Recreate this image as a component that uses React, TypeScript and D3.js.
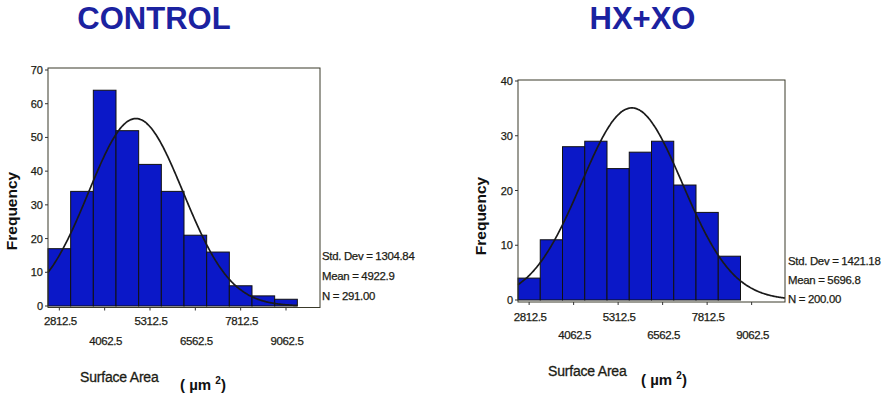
import * as d3 from "d3";
import React from "react";

// histogram bins: 625 wide, starting at 2500 (SPSS labels the midpoints)
const binStart = 2500;
const binWidth = 625;
const controlCounts = [17, 34, 64, 52, 42, 34, 21, 16, 6, 3, 2];
const hxxoCounts = [4, 11, 28, 29, 24, 27, 29, 21, 16, 8];

const xTickValues = [2812.5, 4062.5, 5312.5, 6562.5, 7812.5, 9062.5];
const xTickLabels = ["2812.5", "4062.5", "5312.5", "6562.5", "7812.5", "9062.5"];

const controlYTicks = [0, 10, 20, 30, 40, 50, 60, 70];
const hxxoYTicks = [0, 10, 20, 30, 40];

const controlStats = { sd: 1304.84, mean: 4922.9, n: 291 };
const hxxoStats = { sd: 1421.18, mean: 5696.8, n: 200 };
const controlStatLabels = ["Std. Dev = 1304.84", "Mean = 4922.9", "N = 291.00"];
const hxxoStatLabels = ["Std. Dev = 1421.18", "Mean = 5696.8", "N = 200.00"];

const FONT = "'Liberation Sans', Arial, sans-serif";
const BAR = "#0b18c8";
const TITLE = "#1b22a0";
const INK = "#1c1c14";

function Histogram({ title, titleX, counts, yTicks, yMax, stats, statLabels, curveEnd, box, labels }) {
  const x = d3.scaleLinear().domain([binStart, 10000]).range([box.x0, box.x1]);
  const y = d3.scaleLinear().domain([0, yMax]).range([box.yZero, box.yMaxPx]);
  const bins = counts.map((c, i) => ({ lo: binStart + i * binWidth, hi: binStart + (i + 1) * binWidth, c }));

  const pdf = (v) =>
    (stats.n * binWidth) / (stats.sd * Math.sqrt(2 * Math.PI)) *
    Math.exp(-0.5 * ((v - stats.mean) / stats.sd) ** 2);
  const pts = d3.range(binStart, curveEnd + 1, 25);
  const line = d3.line().x((v) => x(v)).y((v) => y(pdf(v))).curve(d3.curveBasis);

  return (
    <g>
      <text x={titleX} y={28.5} textAnchor="middle" fontFamily={FONT} fontWeight="bold"
        fontSize={31} fill={TITLE}>{title}</text>

      {bins.map((b, i) => (
        <rect key={i} x={x(b.lo)} y={y(b.c)} width={x(b.hi) - x(b.lo)} height={box.yZero - y(b.c)}
          fill={BAR} stroke="#111" strokeWidth={1} />
      ))}
      <path d={line(pts)} fill="none" stroke="#1a1a1a" strokeWidth={1.7} />

      <rect x={box.x0} y={box.top} width={box.x1 - box.x0} height={box.bottom - box.top}
        fill="none" stroke="#3a3a2a" strokeWidth={1} />

      {yTicks.map((t) => (
        <g key={t}>
          <line x1={box.x0 - 3} x2={box.x0} y1={y(t)} y2={y(t)} stroke="#333" />
          <text x={box.x0 - 5} y={y(t) + 4} textAnchor="end" fontFamily={FONT} fontSize={11}
            fill={INK} stroke={INK} strokeWidth={0.25}>{t}</text>
        </g>
      ))}

      {xTickValues.map((t, i) => (
        <g key={t}>
          <line x1={x(t)} x2={x(t)} y1={box.bottom} y2={box.bottom + 3} stroke="#333" />
          <text x={x(t) + 1} y={i % 2 === 0 ? labels.row1 : labels.row2} textAnchor="middle"
            fontFamily={FONT} fontSize={11.5} letterSpacing={-0.4} fill={INK} stroke={INK}
            strokeWidth={0.25}>{xTickLabels[i]}</text>
        </g>
      ))}

      <text transform={`translate(${labels.freqX},${labels.freqY}) rotate(-90)`} textAnchor="middle"
        fontFamily={FONT} fontWeight="bold" fontSize={15.5} fill="#111">Frequency</text>

      {statLabels.map((s, i) => (
        <text key={s} x={labels.statX} y={labels.statY + i * labels.statGap} fontFamily={FONT}
          fontSize={11.4} letterSpacing={-0.3} fill={INK} stroke={INK} strokeWidth={0.25}>{s}</text>
      ))}

      <text x={labels.areaX} y={labels.areaY} fontFamily={FONT} fontSize={14} letterSpacing={-0.2}
        fill={INK} stroke={INK} strokeWidth={0.3}>Surface Area</text>
      <text x={labels.unitX} y={labels.unitY} fontFamily={FONT} fontWeight="bold" fontSize={15} fill="#111">
        ( µm <tspan fontSize={10} dy={-6}>2</tspan><tspan dy={6}>)</tspan>
      </text>
    </g>
  );
}

export default function App() {
  return (
    <svg width={884} height={396} style={{ position: "absolute", left: 0, top: 0, background: "#fff" }}>
      <Histogram
        title="CONTROL" titleX={154}
        counts={controlCounts} yTicks={controlYTicks} yMax={70}
        stats={controlStats} statLabels={controlStatLabels} curveEnd={9375}
        box={{ x0: 48, x1: 320, top: 68, bottom: 307.5, yZero: 306, yMaxPx: 70 }}
        labels={{ row1: 325, row2: 345, freqX: 17, freqY: 211, statX: 322, statY: 260, statGap: 20,
          areaX: 80, areaY: 382, unitX: 180, unitY: 390 }}
      />
      <Histogram
        title="HX+XO" titleX={642.5}
        counts={hxxoCounts} yTicks={hxxoYTicks} yMax={40}
        stats={hxxoStats} statLabels={hxxoStatLabels} curveEnd={10000}
        box={{ x0: 518, x1: 785, top: 80, bottom: 302, yZero: 300, yMaxPx: 81 }}
        labels={{ row1: 321, row2: 339, freqX: 486, freqY: 216, statX: 788, statY: 265, statGap: 19,
          areaX: 548, areaY: 376, unitX: 641, unitY: 385 }}
      />
    </svg>
  );
}
